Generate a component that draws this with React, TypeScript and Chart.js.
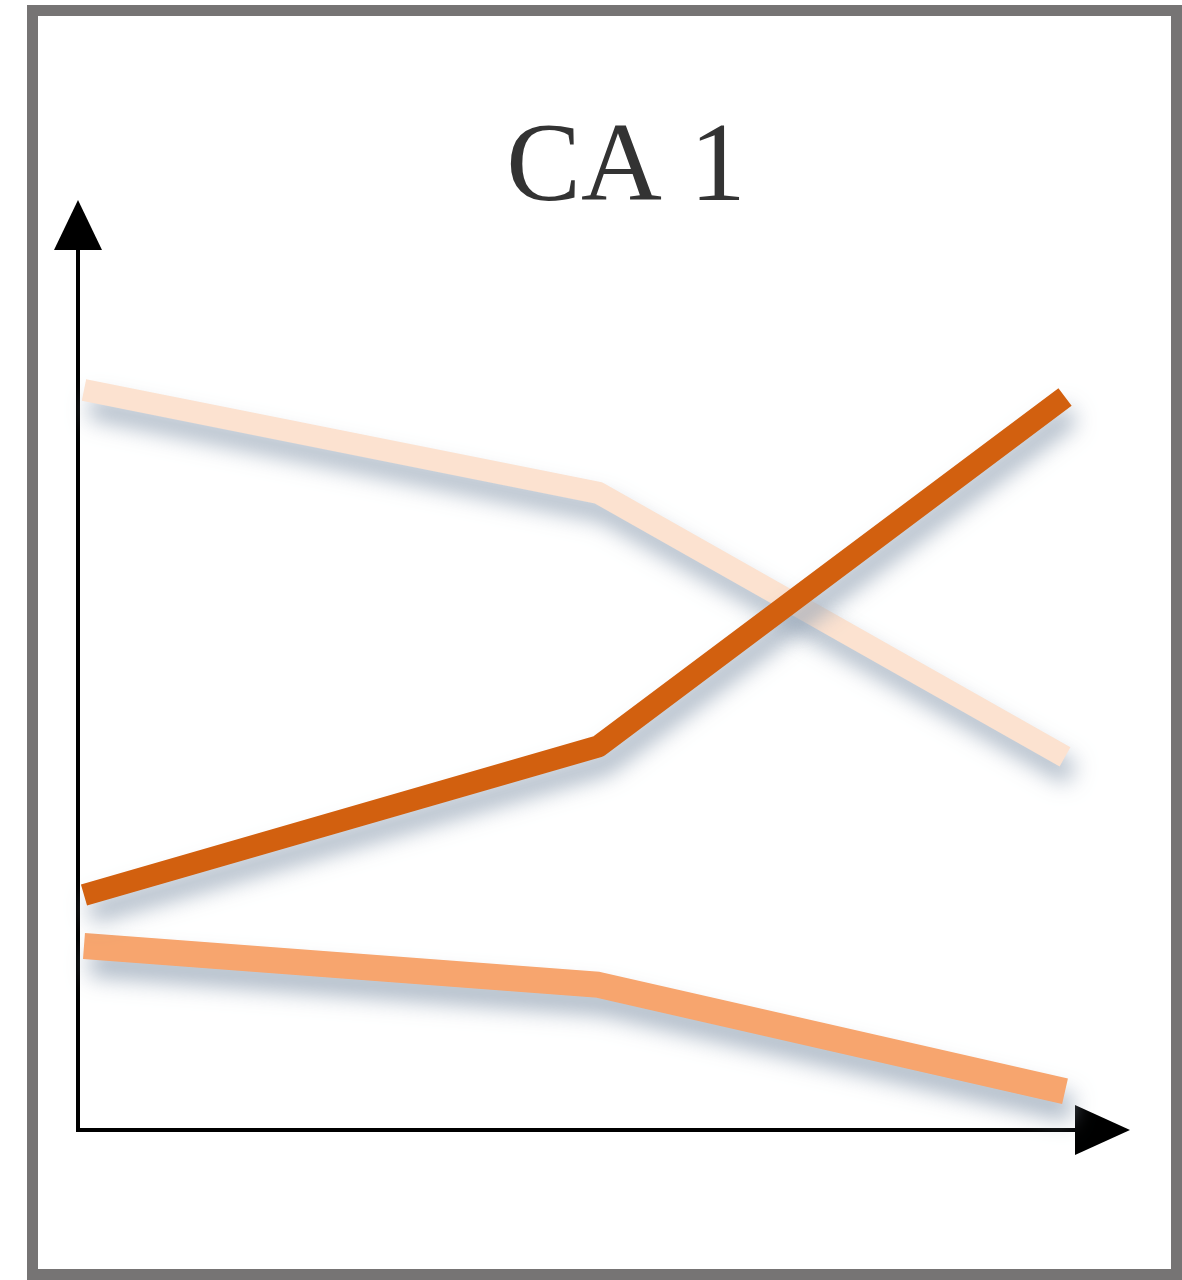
import React, { useEffect, useRef } from "react";
import { Chart, registerables } from "chart.js";

Chart.register(...registerables);

const titleText = "CA 1";
const xPositions = [0.6, 52.2, 99.0];
const darkValues = [26.7, 43.6, 83.3];
const mediumValues = [20.9, 16.5, 4.4];
const lightValues = [84.1, 72.4, 42.4];

const toPoints = (vals: number[]) => vals.map((v, i) => ({ x: xPositions[i], y: v }));

const shadowPlugin = {
  id: "lineShadow",
  beforeDatasetDraw(chart: any) {
    const ctx = chart.ctx;
    ctx.save();
    ctx.shadowColor = "rgba(150,165,182,0.8)";
    ctx.shadowBlur = 22;
    ctx.shadowOffsetX = 6;
    ctx.shadowOffsetY = 17;
  },
  afterDatasetDraw(chart: any) {
    chart.ctx.restore();
  },
};

const axesPlugin = {
  id: "arrowAxes",
  beforeDatasetsDraw(chart: any) {
    const { ctx, chartArea } = chart;
    const { left, right, top, bottom } = chartArea;
    ctx.save();
    ctx.fillStyle = "#000";
    ctx.strokeStyle = "#000";
    ctx.lineWidth = 4;
    ctx.beginPath();
    ctx.moveTo(left, bottom + 2);
    ctx.lineTo(left, top);
    ctx.stroke();
    ctx.beginPath();
    ctx.moveTo(left - 2, bottom);
    ctx.lineTo(right, bottom);
    ctx.stroke();
    ctx.beginPath();
    ctx.moveTo(left - 24, top);
    ctx.lineTo(left + 24, top);
    ctx.lineTo(left, top - 50);
    ctx.closePath();
    ctx.fill();
    ctx.beginPath();
    ctx.moveTo(right, bottom - 25);
    ctx.lineTo(right, bottom + 25);
    ctx.lineTo(right + 55, bottom);
    ctx.closePath();
    ctx.fill();
    ctx.restore();
  },
  afterDraw(chart: any) {
    const ctx = chart.ctx;
    ctx.save();
    ctx.fillStyle = "#333333";
    ctx.font = "112px 'Liberation Serif', 'DejaVu Serif', serif";
    ctx.textAlign = "center";
    ctx.textBaseline = "alphabetic";
    ctx.fillText(titleText, 626, 200);
    ctx.restore();
  },
};

export default function App() {
  const canvasRef = useRef<HTMLCanvasElement | null>(null);

  useEffect(() => {
    if (!canvasRef.current) return;
    const chart = new Chart(canvasRef.current, {
      type: "line",
      data: {
        datasets: [
          {
            label: "Dark",
            data: toPoints(darkValues),
            borderColor: "#D2600F",
            borderWidth: 22,
            clip: false,
          },
          {
            label: "Medium",
            data: toPoints(mediumValues),
            borderColor: "#F7A56E",
            borderWidth: 26,
            clip: false,
          },
          {
            label: "Light",
            data: toPoints(lightValues),
            borderColor: "#FCE2D0",
            borderWidth: 22,
            clip: false,
          },
        ],
      },
      options: {
        animation: false,
        responsive: false,
        maintainAspectRatio: false,
        events: [],
        layout: { padding: { left: 78, right: 107, top: 250, bottom: 150 } },
        elements: {
          point: { radius: 0 },
          line: { tension: 0, borderCapStyle: "butt", borderJoinStyle: "round" },
        },
        plugins: {
          legend: { display: false },
          title: { display: false },
          tooltip: { enabled: false },
        },
        scales: {
          x: { type: "linear", min: 0, max: 100, display: false },
          y: { type: "linear", min: 0, max: 100, display: false },
        },
      },
      plugins: [shadowPlugin, axesPlugin],
    });
    return () => chart.destroy();
  }, []);

  return (
    <div style={{ position: "fixed", left: 0, top: 0, width: 1182, height: 1280, background: "#fff" }}>
      <div
        style={{
          position: "absolute",
          left: 27,
          top: 5,
          width: 1155,
          height: 1275,
          border: "11px solid #767474",
          boxSizing: "border-box",
        }}
      />
      <canvas
        ref={canvasRef}
        width={1182}
        height={1280}
        style={{ position: "absolute", left: 0, top: 0, width: 1182, height: 1280 }}
      />
    </div>
  );
}
